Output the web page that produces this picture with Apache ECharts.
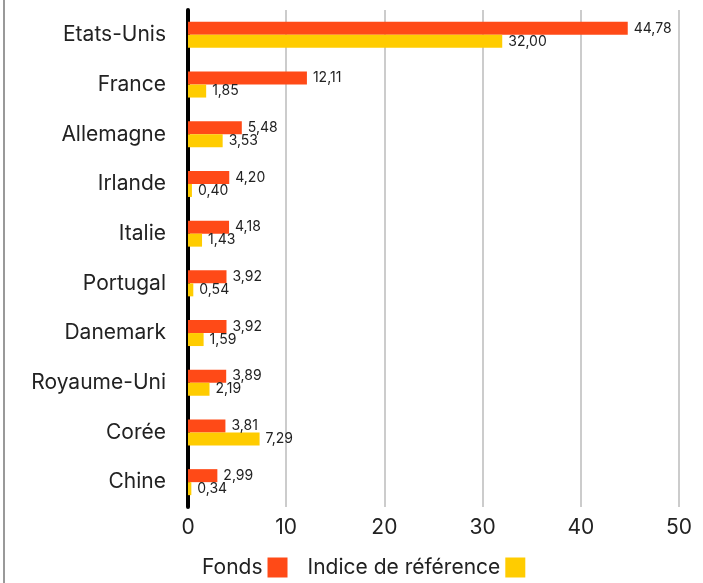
<!DOCTYPE html>
<html>
<head>
<meta charset="utf-8">
<script src="https://cdn.jsdelivr.net/npm/echarts@6/dist/echarts.min.js"></script>
<style>
  html, body { margin: 0; padding: 0; background: #fff; }
  #chart { width: 703px; height: 583px; }
</style>
</head>
<body>
<div id="chart"></div>
<script>
// pays, du haut vers le bas
const countries = ['Etats-Unis', 'France', 'Allemagne', 'Irlande', 'Italie', 'Portugal', 'Danemark', 'Royaume-Uni', 'Corée', 'Chine'];
const fonds = [44.78, 12.11, 5.48, 4.20, 4.18, 3.92, 3.92, 3.89, 3.81, 2.99];
const indice = [32.00, 1.85, 3.53, 0.40, 1.43, 0.54, 1.59, 2.19, 7.29, 0.34];

const font = 'Inter, sans-serif';
const fmt = p => p.value.toFixed(2).replace('.', ',');

const chart = echarts.init(document.getElementById('chart'));
chart.setOption({
  animation: false,
  textStyle: { fontFamily: font },
  grid: { left: 188, right: 24, top: 10, bottom: 76 },
  graphic: [{
    type: 'line',
    shape: { x1: 4, y1: 0, x2: 4, y2: 583 },
    style: { stroke: '#999', lineWidth: 2 }
  }],
  legend: {
    bottom: 0,
    left: 197,
    itemWidth: 20,
    itemHeight: 20,
    itemGap: 20,
    align: 'right',
    icon: 'rect',
    textStyle: { fontSize: 21, color: '#222', fontFamily: font },
    data: ['Fonds', 'Indice de référence']
  },
  xAxis: {
    type: 'value',
    min: 0, max: 50, interval: 10,
    axisLine: { show: false },
    axisTick: { show: false },
    axisLabel: { fontSize: 21, color: '#222', margin: 10, fontFamily: font },
    splitLine: { lineStyle: { color: '#ccc', width: 2 } }
  },
  yAxis: {
    type: 'category',
    inverse: true,
    data: countries,
    axisLine: { lineStyle: { color: '#000', width: 4 } },
    axisTick: { show: false },
    axisLabel: { fontSize: 21, color: '#222', margin: 22, fontFamily: font }
  },
  series: [
    {
      name: 'Fonds', type: 'bar', data: fonds,
      barWidth: 13, barGap: '0%',
      itemStyle: { color: '#FF4A17' },
      label: { show: true, position: 'right', distance: 6, fontSize: 14, color: '#222', fontFamily: font, formatter: fmt }
    },
    {
      name: 'Indice de référence', type: 'bar', data: indice,
      barWidth: 13,
      itemStyle: { color: '#FFCC00' },
      label: { show: true, position: 'right', distance: 6, fontSize: 14, color: '#222', fontFamily: font, formatter: fmt }
    }
  ]
});
</script>
</body>
</html>
